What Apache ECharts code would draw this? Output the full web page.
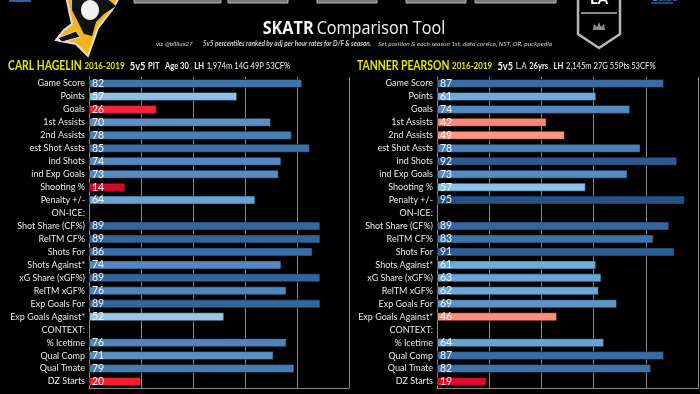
<!DOCTYPE html>
<html><head><meta charset="utf-8">
<script src="https://cdn.jsdelivr.net/npm/echarts@6/dist/echarts.min.js"></script>
<style>html,body{margin:0;padding:0;background:#000;}#c{width:700px;height:394px;}</style>
</head><body><div id="c"></div>
<script>
const categories = ['Game Score','Points','Goals','1st Assists','2nd Assists','est Shot Assts','ind Shots','ind Exp Goals','Shooting %','Penalty +/-','ON-ICE:','Shot Share (CF%)','RelTM CF%','Shots For','Shots Against*','xG Share (xGF%)','RelTM xGF%','Exp Goals For','Exp Goals Against*','CONTEXT:','% Icetime','Qual Comp','Qual Tmate','DZ Starts'];
const hagelin = [82,57,26,70,78,85,74,73,14,64,null,89,89,86,74,89,76,89,52,null,76,71,79,20];
const pearson = [87,61,74,42,49,78,92,73,57,95,null,89,83,91,61,63,62,69,46,null,64,87,82,19];
const xTicks = [0,20,40,60,80,100];

const NARROW = "Lato,Roboto,sans-serif";
const stops = [[14,'#d4082a'],[19,'#e00b2b'],[20,'#fa1b2e'],[26,'#ff2435'],[42,'#ff8676'],[46,'#ff8d7c'],[49,'#ff9482'],[52,'#95c7eb'],[57,'#8dc1e7'],[61,'#6eabdb'],[64,'#67a3d4'],[70,'#5b90c4'],[74,'#5189c0'],[78,'#4a80b8'],[82,'#3f74ab'],[87,'#386ba3'],[89,'#34659d'],[92,'#2b5b91'],[95,'#255389']];
function hex(c){return [1,3,5].map(i=>parseInt(c.substr(i,2),16));}
function colorFor(v){
  if(v<=stops[0][0]) return stops[0][1];
  for(let i=1;i<stops.length;i++){
    if(v<=stops[i][0]){
      const [a,ca]=stops[i-1],[b,cb]=stops[i];
      const t=(v-a)/(b-a), x=hex(ca), y=hex(cb);
      return 'rgb('+x.map((q,k)=>Math.round(q+(y[k]-q)*t)).join(',')+')';
    }
  }
  return stops[stops.length-1][1];
}
function seriesData(arr){
  return arr.map(v=>v==null?null:{value:v,itemStyle:{color:colorFor(v)}});
}
const gridTop=77, gridH=311;
const grids=[{left:89,width:260,top:gridTop,height:gridH,outerBoundsMode:'none',containLabel:false},
             {left:437,width:261,top:gridTop,height:gridH,outerBoundsMode:'none',containLabel:false}];
function xAx(i){return {type:'value',gridIndex:i,min:xTicks[0],max:xTicks[xTicks.length-1],interval:20,
  axisLabel:{show:false},axisTick:{show:false},
  axisLine:{show:true,lineStyle:{color:'#8a8a8a',width:1}},
  splitLine:{show:true,lineStyle:{color:'#8a8a8a',width:1}}};}
function yAx(i){return {type:'category',gridIndex:i,data:categories,inverse:true,
  axisTick:{show:false},axisLine:{show:true,lineStyle:{color:'#8a8a8a'}},
  axisLabel:{interval:0,color:'#e8e8e8',fontSize:9,fontFamily:NARROW,margin:4}};}
function ser(i,arr){return {type:'bar',xAxisIndex:i,yAxisIndex:i,data:seriesData(arr),barWidth:9,
  itemStyle:{borderColor:'rgba(0,0,0,0.45)',borderWidth:1},
  label:{show:true,position:'insideLeft',distance:3,color:'#f2f2f2',fontSize:10.5,fontFamily:NARROW},
  animation:false};}

const chart=echarts.init(document.getElementById('c'),null,{renderer:'canvas'});
const headerRich={
  n:{fontFamily:NARROW,fontWeight:'bold',fontSize:13,fill:'#e6e600'},
  y:{fontFamily:NARROW,fontWeight:'bold',fontSize:10,fill:'#e6e600'},
  s:{fontFamily:NARROW,fontWeight:'bold',fontSize:11.5,fill:'#eeeeee'},
  b:{fontFamily:NARROW,fontWeight:'bold',fontSize:9.5,fill:'#eeeeee'},
  r:{fontFamily:NARROW,fontSize:9.5,fill:'#eeeeee'}
};
chart.setOption({
  backgroundColor:'#000',
  animation:false,
  grid:grids,
  xAxis:[xAx(0),xAx(1)],
  yAxis:[yAx(0),yAx(1)],
  series:[ser(0,hagelin),ser(1,pearson)],
  graphic:[
    {type:'rect',shape:{x:9,y:-3,width:22,height:5},style:{fill:'#2a63a4'}},
    {type:'rect',shape:{x:134,y:-3,width:87,height:6},style:{fill:'#7a7a7a',stroke:'#bbbbbb',lineWidth:1}},
    {type:'rect',shape:{x:228,y:-3,width:60,height:6},style:{fill:'#7a7a7a',stroke:'#bbbbbb',lineWidth:1}},
    {type:'rect',shape:{x:317,y:-3,width:60,height:6},style:{fill:'#7a7a7a',stroke:'#bbbbbb',lineWidth:1}},
    {type:'rect',shape:{x:406,y:-3,width:60,height:6},style:{fill:'#7a7a7a',stroke:'#bbbbbb',lineWidth:1}},
    {type:'rect',shape:{x:475,y:-3,width:81,height:6},style:{fill:'#7a7a7a',stroke:'#bbbbbb',lineWidth:1}},
    {type:'text',x:651,y:-7,style:{text:'Guide',fill:'#4a8fd8',fontSize:10,fontFamily:NARROW}},
    {type:'line',shape:{x1:651,y1:3,x2:673,y2:3},style:{stroke:'#4a8fd8',lineWidth:1}},
    // penguins logo (simplified)
    {type:'polygon',shape:{points:[[66,-4],[120,-4],[112,10],[98,28],[88,56],[76,44],[56,40],[64,30],[72,24]]},style:{fill:'#f4b41a',stroke:'#e0e0e0',lineWidth:2}},
    {type:'polygon',shape:{points:[[72,-4],[104,-4],[116,6],[104,14],[96,22],[92,36],[84,34],[78,22],[72,10]]},style:{fill:'#111111'}},
    {type:'ellipse',shape:{cx:90,cy:10,rx:9,ry:10},style:{fill:'#f2f2f2'}},
    {type:'polygon',shape:{points:[[58,38],[76,31],[80,37],[62,42]]},style:{fill:'#111111',stroke:'#e0e0e0',lineWidth:1}},
    // kings logo (simplified)
    {type:'polygon',shape:{points:[[578,-3],[620,-3],[620,34],[599,48],[578,34]]},style:{fill:'#000000',stroke:'#b5b5b5',lineWidth:2.5}},
    {type:'text',x:599,y:7,style:{text:'LA',fill:'#ffffff',fontSize:15,fontWeight:'bold',fontFamily:NARROW,align:'center',verticalAlign:'bottom'}},
    {type:'line',shape:{x1:581,y1:13,x2:617,y2:13},style:{stroke:'#b5b5b5',lineWidth:1.5}},
    {type:'polygon',shape:{points:[[593,30],[594,24],[597,27],[599,22],[601,27],[604,24],[605,30]]},style:{fill:'#8a8a8a'}},
    // title
    {type:'text',x:354,y:29,scaleX:0.9,style:{text:'{b|SKATR} {r|Comparison Tool}',align:'center',verticalAlign:'middle',
      rich:{b:{fontFamily:"'Open Sans',sans-serif",fontWeight:'bold',fontSize:18,fill:'#f4f4f4'},
            r:{fontFamily:"'Open Sans',sans-serif",fontSize:18,fill:'#f4f4f4'}}}},
    {type:'text',x:354,y:44,style:{text:'{a|viz @billius27}   {b|5v5 percentiles ranked by adj per hour rates for D/F & season.}  {a|Set position & each season 1st. data corsica, NST, OR, puckpedia}',align:'center',verticalAlign:'middle',
      rich:{a:{fontFamily:NARROW,fontStyle:'italic',fontSize:6.5,fill:'#cfcfcf'},
            b:{fontFamily:NARROW,fontStyle:'italic',fontWeight:'bold',fontSize:6.5,fill:'#cfcfcf'}}}},
    // player headers
    {type:'text',x:8,y:66,scaleX:0.8,style:{text:'{n|CARL HAGELIN} {y|2016-2019}  {s|5v5} {b|PIT}  {b|Age 30}  {b|LH} {r|1,974m 14G 49P 53CF%}',verticalAlign:'middle',rich:headerRich}},
    {type:'text',x:357,y:66,scaleX:0.8,style:{text:'{n|TANNER PEARSON} {y|2016-2019}  {s|5v5} {r|L.A} {b|26yrs}  {b|LH} {r|2,145m 27G 55Pts 53CF%}',verticalAlign:'middle',rich:headerRich}}
  ]
});
</script></body></html>
